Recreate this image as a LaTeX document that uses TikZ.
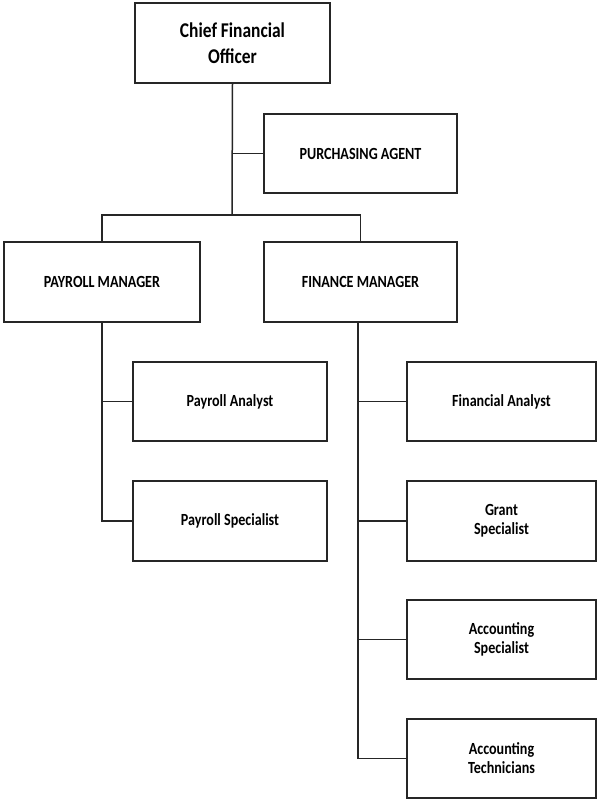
\documentclass[tikz,border=0pt]{standalone}
\usepackage{fontspec}
\newfontfamily\orgfont{Carlito}[FakeStretch=0.83]
\begin{document}
\begin{tikzpicture}[x=1pt,y=-1pt,
  box/.style={draw=black!85, line width=1.6pt, fill=white, align=center,
    inner sep=0pt, font=\orgfont\bfseries\fontsize{17}{19}\selectfont},
  link/.style={draw=black!85, line width=1.5pt}]
\useasboundingbox (0,0) rectangle (597,800);
\fill[white] (0,0) rectangle (597,800);

% top level
\node[box, minimum width=195pt, minimum height=80pt,
  font=\orgfont\bfseries\fontsize{21}{26}\selectfont] (cfo) at (232.5,43) {Chief Financial\\Officer};
\node[box, minimum width=193pt, minimum height=79pt] (pa) at (360.5,153.5) {PURCHASING AGENT};

% managers
\node[box, minimum width=196pt, minimum height=80pt] (pm) at (102,282) {PAYROLL MANAGER};
\node[box, minimum width=193pt, minimum height=80pt] (fm) at (360.5,282) {FINANCE MANAGER};

% payroll staff
\node[box, minimum width=194pt, minimum height=79pt] (pan) at (230,401.5) {Payroll Analyst};
\node[box, minimum width=194pt, minimum height=80pt] (psp) at (230,521) {Payroll Specialist};

% finance staff
\node[box, minimum width=189pt, minimum height=79pt] (fa) at (501.5,401.5) {Financial Analyst};
\node[box, minimum width=189pt, minimum height=80pt] (gs) at (501.5,521) {Grant\\Specialist};
\node[box, minimum width=189pt, minimum height=79pt] (as) at (501.5,639.5) {Accounting\\Specialist};
\node[box, minimum width=189pt, minimum height=79pt] (at) at (501.5,758.5) {Accounting\\Technicians};

% connectors
\coordinate (bar) at (232,215);
\draw[link] (cfo.south) -- (bar);
\draw[link] (pa.west) -- (pa.west -| cfo.south);
\draw[link] (pm.north) |- (bar) -| (fm.north);

\draw[link] (pm.south) |- (psp.west);
\draw[link] (pan.west) -- (pan.west -| pm.south);

\coordinate (ftrunk) at (358,322);
\draw[link] (ftrunk) |- (at.west);
\draw[link] (fa.west) -- (fa.west -| ftrunk);
\draw[link] (gs.west) -- (gs.west -| ftrunk);
\draw[link] (as.west) -- (as.west -| ftrunk);
\end{tikzpicture}
\end{document}
